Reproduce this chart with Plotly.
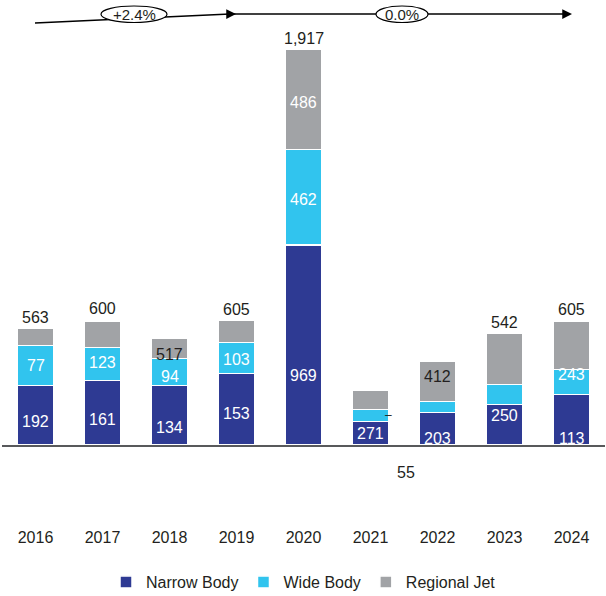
import plotly.graph_objects as go

# ---------------- data ----------------
years = ["2016", "2017", "2018", "2019", "2020", "2021", "2022", "2023", "2024"]
narrow_body = [288, 312, 288, 346, 969, 114, 157, 196, 244]
wide_body = [194, 160, 131, 150, 462, 58, 53, 97, 121]
regional_jet = [81, 125, 97, 106, 486, 92, 194, 247, 232]

# labels as printed on the source chart
narrow_labels = ["192", "161", "134", "153", "969", "271", "203", "250", "113"]
wide_labels = ["77", "123", "94", "103", "462", "", "", "", "243"]
regional_labels = ["", "", "", "", "486", "", "", "", ""]
total_labels = ["563", "600", "517", "605", "1,917", "", "412", "542", "605"]
stray_label = "55"
cagr_labels = ["+2.4%", "0.0%"]

# ---------------- styling / layout ----------------
NB_COLOR = "#2e3a93"
WB_COLOR = "#31c4ee"
RJ_COLOR = "#a1a3a6"
TEXT_DARK = "#231f20"
FONT = "Liberation Sans, Arial, Helvetica, sans-serif"

W, H = 606, 596
ML, MR, MT, MB = 2, 1, 0, 151
PW, PH = W - ML - MR, H - MT - MB
Y_MAX = 2154

def py2data(py):
    return (H - MB - py) / PH * Y_MAX

def px2paper(px):
    return (px - ML) / PW

def py2paper(py):
    return (H - MB - py) / PH

# label vertical placements (pixel rows where the text sits)
narrow_label_py = [421, 419, 427, 413, 375, 433, 438, 415, 438]
wide_label_py = [365, 362, 376, 359, 199, None, None, None, 374]
regional_label_py = [None, None, None, None, 102, None, None, None, None]
total_label_py = [317, 308, 354, 309, 38, None, 376, 322, 309]

fig = go.Figure()
for name, vals, col in [("Narrow Body", narrow_body, NB_COLOR),
                        ("Wide Body", wide_body, WB_COLOR),
                        ("Regional Jet", regional_jet, RJ_COLOR)]:
    fig.add_trace(go.Bar(
        x=years, y=vals, name=name,
        marker=dict(color=col, line=dict(color="white", width=1.5)),
        hoverinfo="skip",
    ))

annotations = []

def add_label(i, py, text, color, size=16, xshift=0):
    annotations.append(dict(
        x=i, y=py2data(py), xref="x", yref="y", text=text, showarrow=False,
        font=dict(family=FONT, size=size, color=color),
        xanchor="center", yanchor="middle", xshift=xshift,
    ))

for i in range(len(years)):
    if narrow_labels[i] and narrow_label_py[i] is not None:
        add_label(i, narrow_label_py[i], narrow_labels[i], "white")
    if wide_labels[i] and wide_label_py[i] is not None:
        add_label(i, wide_label_py[i], wide_labels[i], "white")
    if regional_labels[i] and regional_label_py[i] is not None:
        add_label(i, regional_label_py[i], regional_labels[i], "white")
    if total_labels[i] and total_label_py[i] is not None:
        add_label(i, total_label_py[i], total_labels[i], TEXT_DARK)

# stray marks from the source
add_label(years.index("2021"), 415, "–", TEXT_DARK, size=12, xshift=18)
annotations.append(dict(
    x=years.index("2021"), xref="x", xshift=35, y=py2paper(472), yref="paper",
    text=stray_label, showarrow=False,
    font=dict(family=FONT, size=16, color=TEXT_DARK),
    xanchor="center", yanchor="middle",
))

# CAGR arrows
shapes = []
shapes.append(dict(type="line", xref="paper", yref="paper",
                   x0=px2paper(35), y0=py2paper(23), x1=px2paper(230), y1=py2paper(14),
                   line=dict(color="black", width=1.5), layer="above"))
shapes.append(dict(type="line", xref="paper", yref="paper",
                   x0=px2paper(230), y0=py2paper(14), x1=px2paper(566), y1=py2paper(14),
                   line=dict(color="black", width=1.5), layer="above"))
for tip in (236, 572):
    annotations.append(dict(
        x=px2paper(tip), y=py2paper(14), xref="paper", yref="paper", text="",
        showarrow=True, ax=-10, ay=0, arrowhead=2, arrowsize=1.3, arrowwidth=1.5,
        arrowcolor="black",
    ))
for (cx, w, txt) in [(134, 66, cagr_labels[0]), (402, 52, cagr_labels[1])]:
    shapes.append(dict(type="circle", xref="paper", yref="paper",
                       x0=px2paper(cx - w / 2), x1=px2paper(cx + w / 2),
                       y0=py2paper(22.5), y1=py2paper(6),
                       fillcolor="white", line=dict(color="black", width=1.2),
                       layer="above"))
    annotations.append(dict(
        x=px2paper(cx), y=py2paper(14.5), xref="paper", yref="paper", text=txt,
        showarrow=False, font=dict(family=FONT, size=15, color=TEXT_DARK),
        xanchor="center", yanchor="middle",
    ))

fig.update_layout(
    width=W, height=H,
    margin=dict(l=ML, r=MR, t=MT, b=MB, autoexpand=False),
    barmode="stack", bargap=0.463,
    paper_bgcolor="white", plot_bgcolor="white",
    font=dict(family=FONT, color=TEXT_DARK),
    showlegend=True,
    legend=dict(orientation="h", xref="paper", x=0.5, xanchor="center",
                yref="container", y=1 - 582 / H, yanchor="middle",
                font=dict(family=FONT, size=16, color=TEXT_DARK),
                traceorder="normal"),
    xaxis=dict(type="category", range=[-0.5, len(years) - 0.5],
               showgrid=False, zeroline=False, showline=True,
               linecolor="#58595b", linewidth=2, ticks="", automargin=False,
               tickfont=dict(family=FONT, size=16, color=TEXT_DARK),
               ticklabelstandoff=77, fixedrange=True),
    yaxis=dict(range=[0, Y_MAX], visible=False, fixedrange=True),
    annotations=annotations,
    shapes=shapes,
)

fig.write_html("out.html", config={"displayModeBar": False},
               post_script="document.body.style.margin='0';")
